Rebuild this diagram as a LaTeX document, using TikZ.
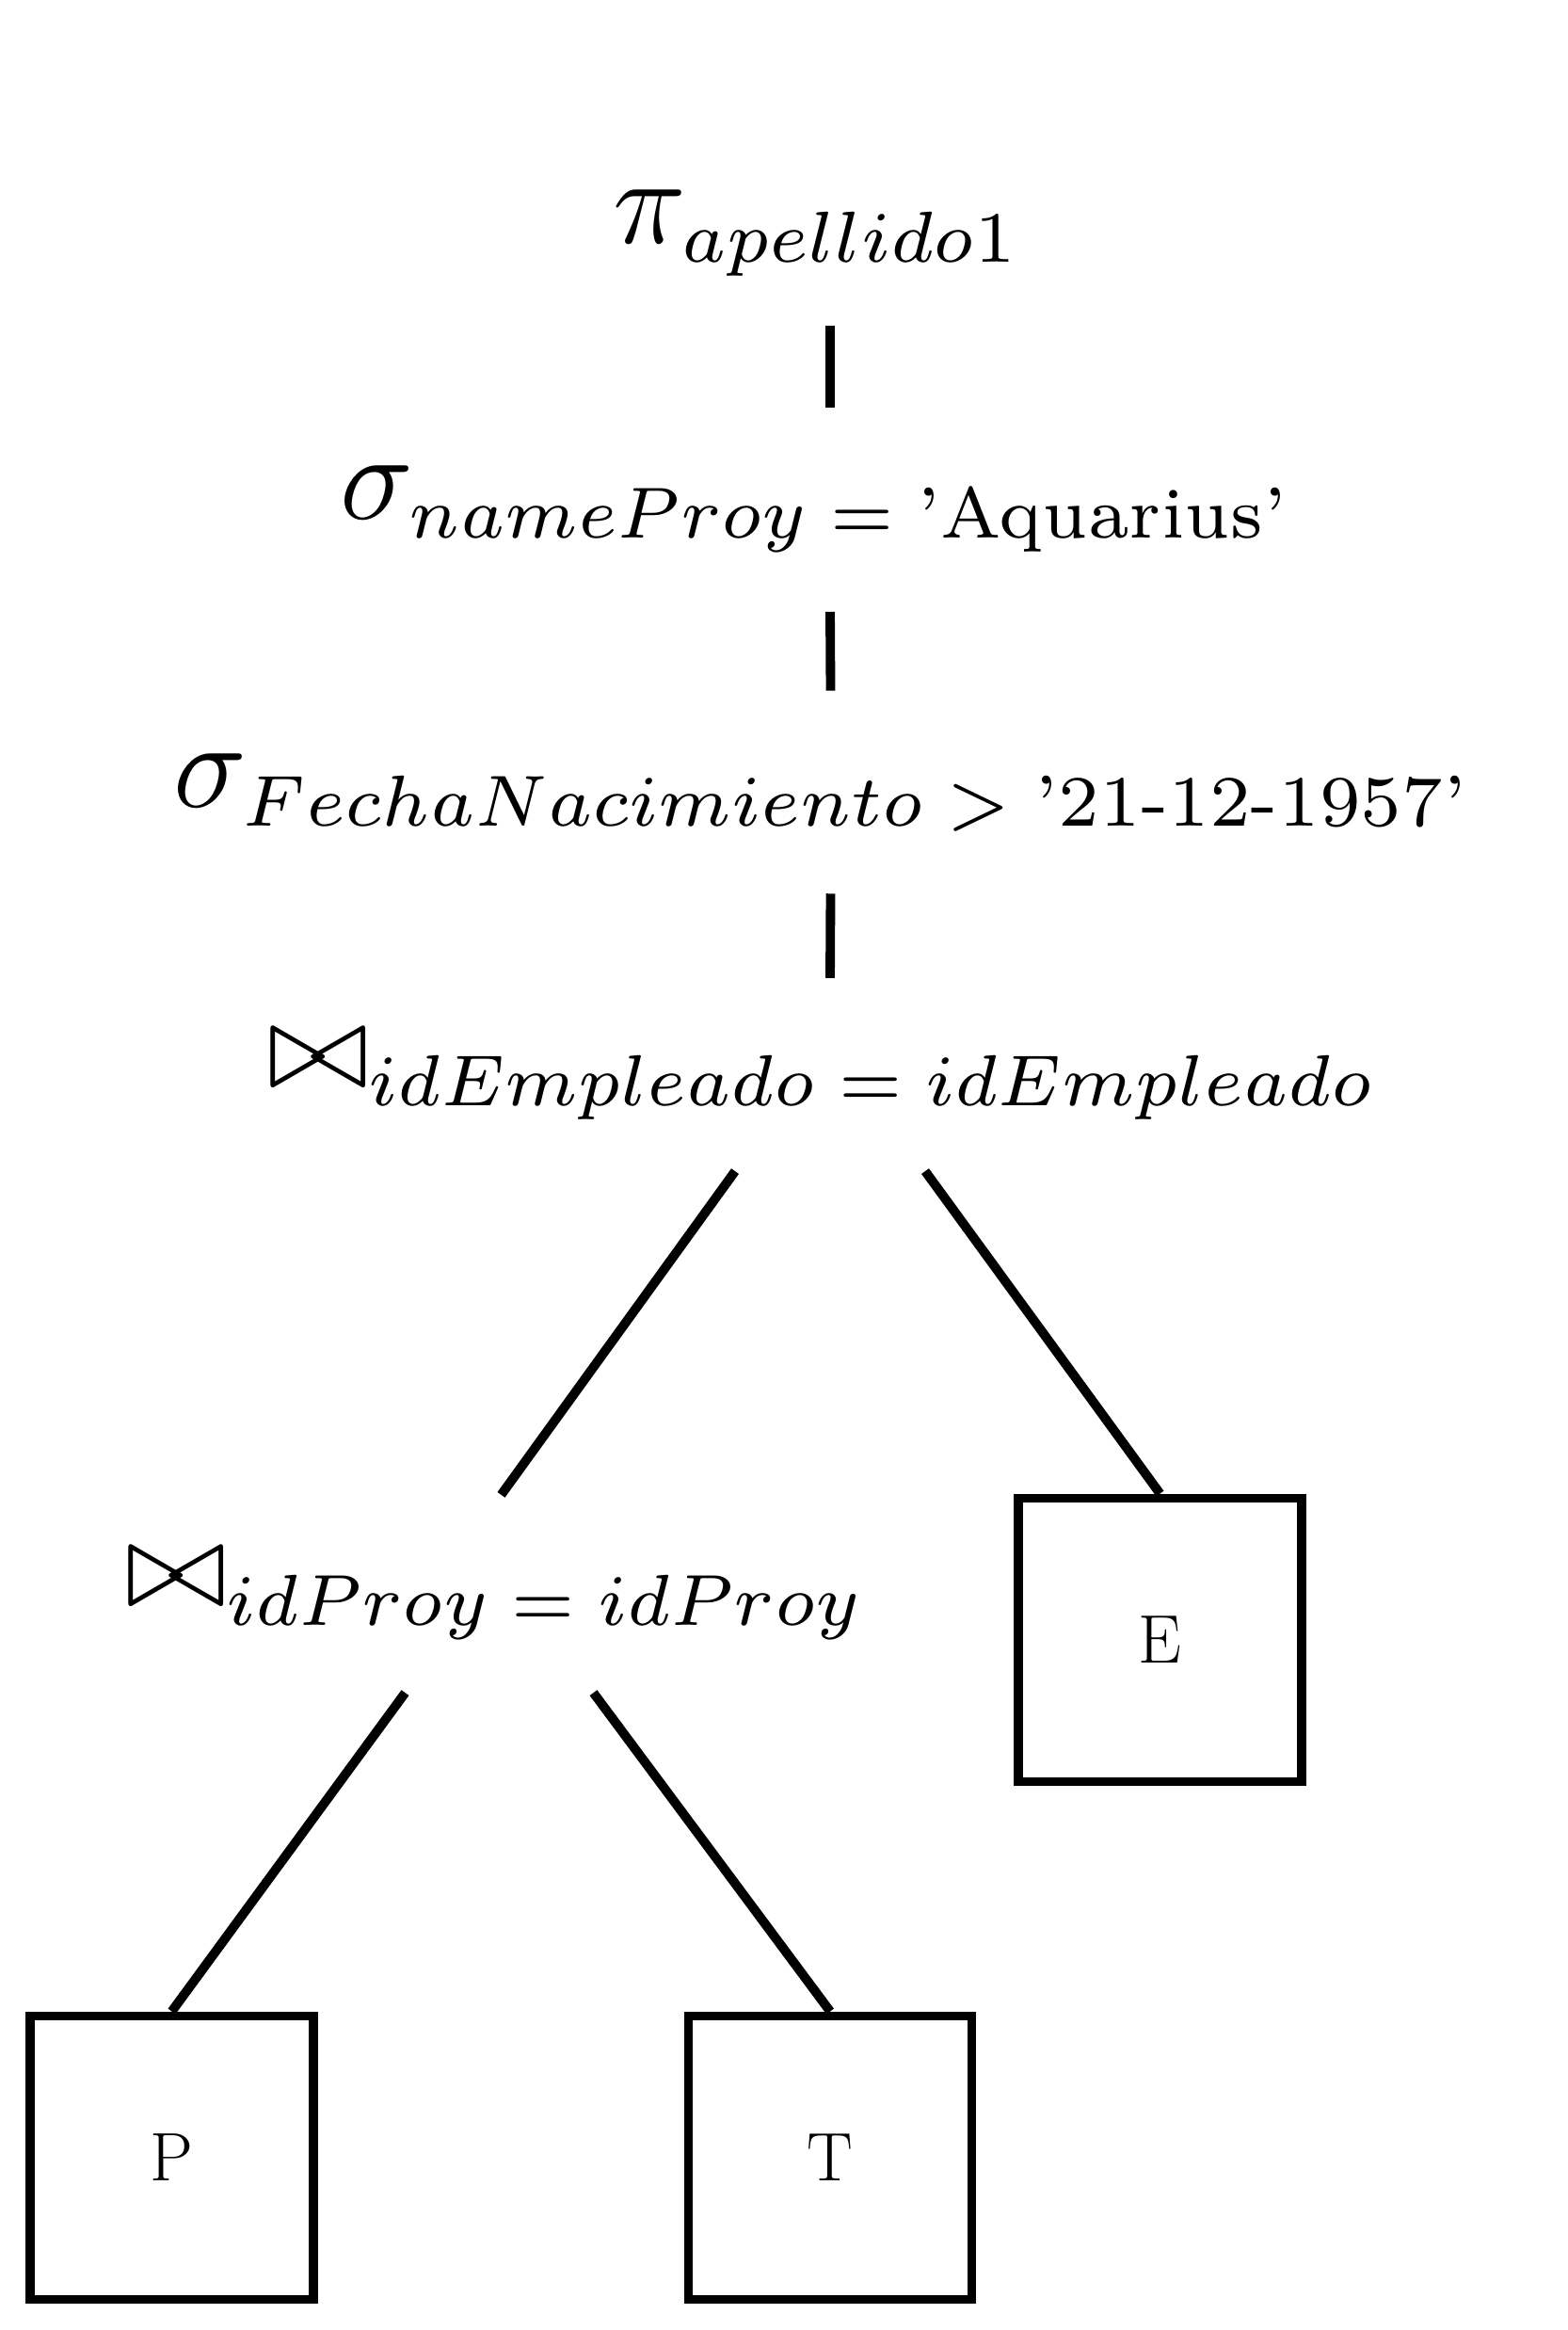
\documentclass[tikz,border=0pt]{standalone}
\usepackage{amsmath,amssymb}
\usepackage{tikz}
\DeclareMathSizes{10}{12}{7}{5}

\begin{document}
\begin{tikzpicture}[
  op/.style={inner sep=0pt, scale=3.12},
  rel/.style={draw, line width=2.8pt, minimum size=3.01cm, inner sep=0pt, font=\huge},
  edge/.style={line width=2.8pt}
]
  \useasboundingbox (0,0) rectangle (16.65,24.75);
  \node[op] (proj) at (8.68, 22.27) {$\pi_{apellido1}$};
  \node[op] (selName) at (8.67, 19.34) {$\sigma_{nameProy\;=\;\text{'Aquarius'}}$};
  \node[op] (selFecha) at (8.74, 16.33) {$\sigma_{FechaNacimiento\;>\;\text{'21-12-1957'}}$};
  \node[op] (joinEmp) at (8.74, 13.33) {$\bowtie_{idEmpleado\;=\;idEmpleado}$};
  \node[op] (joinProy) at (5.265, 7.82) {$\bowtie_{idProy\;=\;idProy}$};
  \node[rel] (E) at (12.325, 7.33) {E};
  \node[rel] (P) at (1.825, 1.83) {P};
  \node[rel] (T) at (8.82, 1.83) {T};
  \draw [edge] ([shift={(0.14,-0.5)}]proj.south) -- ([shift={(0.15,0.6)}]selName.north);
  \draw [edge] ([shift={(0.15,-0.61)}]selName.south) -- ([shift={(0.085,0.65)}]selFecha.north);
  \draw [edge] ([shift={(0.085,-0.64)}]selFecha.south) -- ([shift={(0.08,0.53)}]joinEmp.north);
  \draw [edge] ([shift={(-0.93,-0.52)}]joinEmp.south) -- ([shift={(0.06,0.55)}]joinProy.north);
  \draw [edge] ([shift={(1.09,-0.52)}]joinEmp.south) -- (E.north);
  \draw [edge] ([shift={(-0.96,-0.55)}]joinProy.south) -- (P.north);
  \draw [edge] ([shift={(1.04,-0.55)}]joinProy.south) -- (T.north);
\end{tikzpicture}
\end{document}
